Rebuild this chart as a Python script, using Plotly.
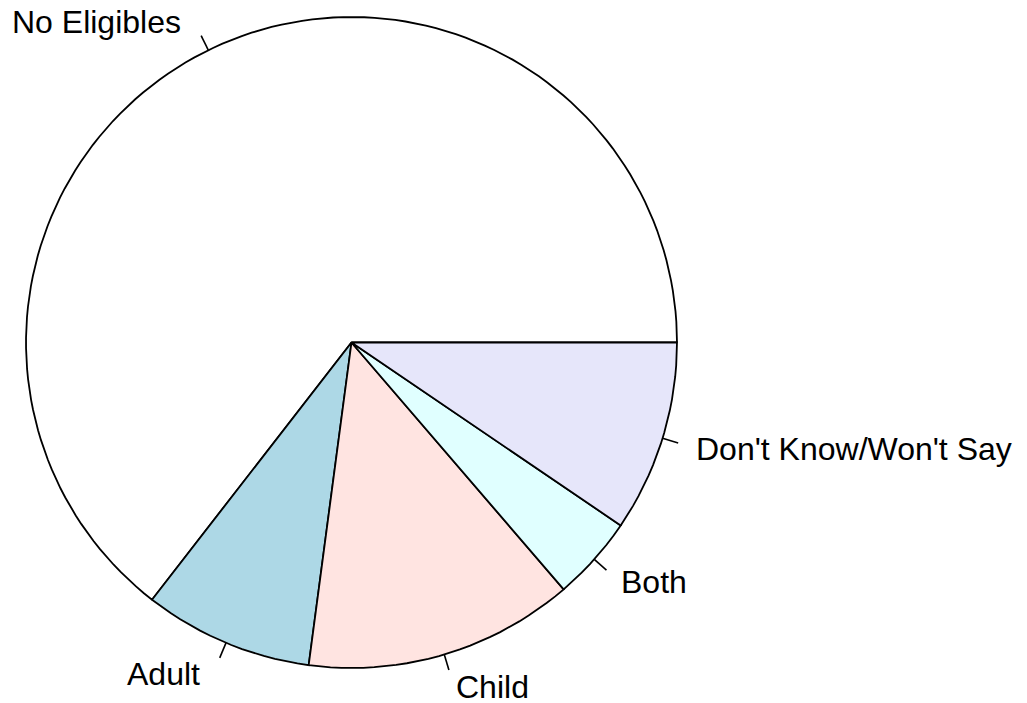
import numpy as np
import plotly.graph_objects as go

# Data
labels = ["No Eligibles", "Adult", "Child", "Both", "Don't Know/Won't Say"]
values = [64.5, 8.4, 13.4, 4.2, 9.5]
colors = ["white", "lightblue", "mistyrose", "lightcyan", "lavender"]

W, H = 1027, 703
cx_px, cy_px, r_px = 351.5, 342.5, 325.5

fig = go.Figure()

frac = np.array(values, dtype=float)
frac = frac / frac.sum()
cum = np.concatenate([[0.0], np.cumsum(frac)])
edges = 200

tick_x, tick_y = [], []
for i, lab in enumerate(labels):
    n = max(2, int(np.floor(edges * (cum[i + 1] - cum[i]))))
    t = np.linspace(cum[i], cum[i + 1], n) * 2 * np.pi
    px = list(np.cos(t)) + [0.0, np.cos(t[0])]
    py = list(np.sin(t)) + [0.0, np.sin(t[0])]
    fig.add_trace(go.Scatter(x=px, y=py, mode="lines", fill="toself",
                             fillcolor=colors[i],
                             line=dict(color="black", width=1.8),
                             hoverinfo="skip", showlegend=False))
    mid = (cum[i] + cum[i + 1]) * np.pi
    c, s = np.cos(mid), np.sin(mid)
    tick_x += [c, 1.05 * c, None]
    tick_y += [s, 1.05 * s, None]
    right = c < 0
    fig.add_annotation(x=1.1 * c, y=1.1 * s, text=lab, showarrow=False,
                       xanchor="right" if right else "left", yanchor="middle",
                       xshift=-11 if right else 0, yshift=-1,
                       font=dict(family="Liberation Sans, Arial, sans-serif",
                                 size=32, color="black"))

fig.add_trace(go.Scatter(x=tick_x, y=tick_y, mode="lines",
                         line=dict(color="black", width=1.6),
                         hoverinfo="skip", showlegend=False))

fig.update_xaxes(visible=False, range=[-cx_px / r_px, (W - cx_px) / r_px])
fig.update_yaxes(visible=False, range=[-(H - cy_px) / r_px, cy_px / r_px])
fig.update_layout(width=W, height=H, margin=dict(l=0, r=0, t=0, b=0),
                  paper_bgcolor="white", plot_bgcolor="white")

fig.write_html("out.html", config={"displayModeBar": False},
               post_script="document.body.style.margin='0';"
                           "document.body.style.overflow='hidden';")
